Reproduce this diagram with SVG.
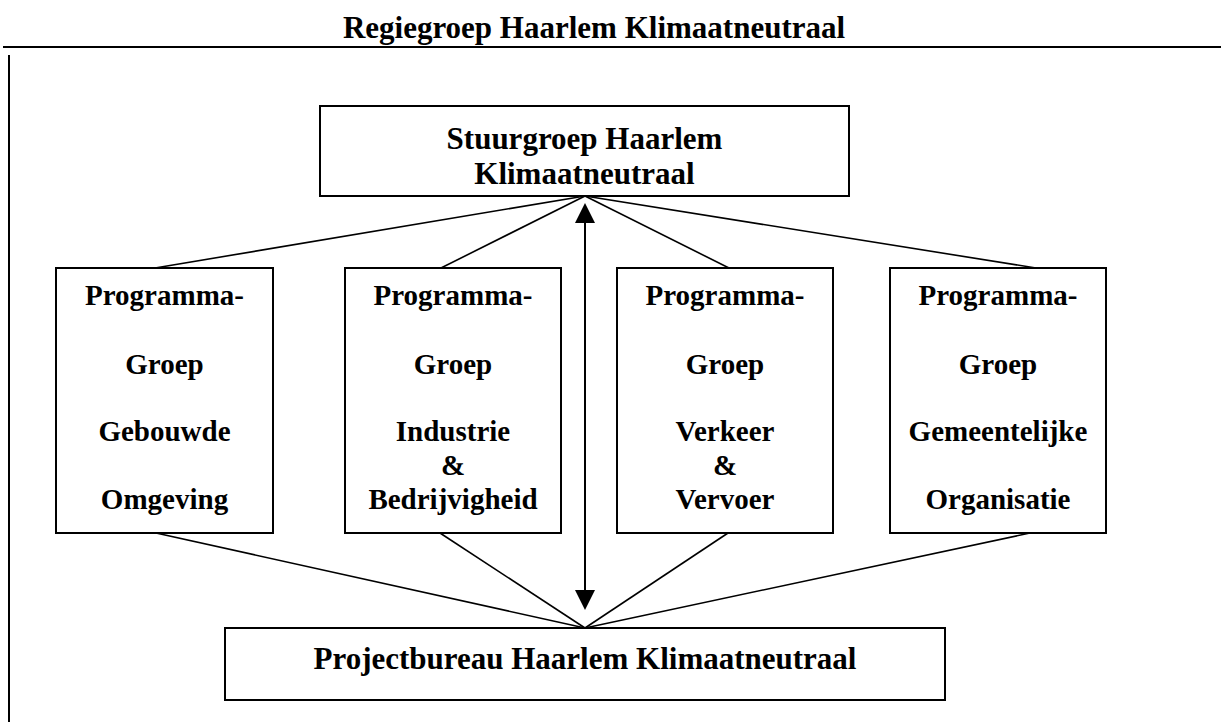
<svg xmlns="http://www.w3.org/2000/svg" width="1221" height="722" viewBox="0 0 1221 722">
<style>
.box{fill:#fff;stroke:#000;stroke-width:2}
.t{font-family:"Liberation Serif","Times New Roman",serif;font-weight:bold;fill:#000;text-anchor:middle}
.h{font-size:31px}
.p{font-size:29px}
.c{stroke:#000;stroke-width:1.6;fill:none}
</style>
<rect width="1221" height="722" fill="#fff"/>
<g id="frame">
<text class="t h" x="594" y="38">Regiegroep Haarlem Klimaatneutraal</text>
<line x1="3" y1="47" x2="1221" y2="47" stroke="#000" stroke-width="2"/>
<line x1="9" y1="55" x2="9" y2="722" stroke="#000" stroke-width="2"/>
</g>
<g id="connectors">
<line class="c" x1="585" y1="196" x2="155" y2="268"/>
<line class="c" x1="585" y1="196" x2="441" y2="268"/>
<line class="c" x1="585" y1="196" x2="729" y2="268"/>
<line class="c" x1="585" y1="196" x2="1036" y2="268"/>
<line class="c" x1="156" y1="533" x2="585" y2="628"/>
<line class="c" x1="440" y1="533" x2="585" y2="628"/>
<line class="c" x1="728" y1="533" x2="585" y2="628"/>
<line class="c" x1="1030" y1="533" x2="585" y2="628"/>
<line x1="585" y1="215" x2="585" y2="598" stroke="#000" stroke-width="2"/>
<polygon points="585,203 575,223 595,223" fill="#000"/>
<polygon points="585,610 575,590 595,590" fill="#000"/>
</g>
<g id="stuurgroep">
<rect class="box" x="320" y="106" width="529" height="90"/>
<text class="t h" x="584.5" y="149">Stuurgroep Haarlem</text>
<text class="t h" x="584.5" y="184">Klimaatneutraal</text>
</g>
<g id="pg1">
<rect class="box" x="56" y="268" width="217" height="265"/>
<text class="t p" x="164.5" y="305">Programma-</text>
<text class="t p" x="164.5" y="374">Groep</text>
<text class="t p" x="164.5" y="441">Gebouwde</text>
<text class="t p" x="164.5" y="509">Omgeving</text>
</g>
<g id="pg2">
<rect class="box" x="345" y="268" width="216" height="265"/>
<text class="t p" x="453" y="305">Programma-</text>
<text class="t p" x="453" y="374">Groep</text>
<text class="t p" x="453" y="441">Industrie</text>
<text class="t p" x="453" y="475">&amp;</text>
<text class="t p" x="453" y="509">Bedrijvigheid</text>
</g>
<g id="pg3">
<rect class="box" x="617" y="268" width="216" height="265"/>
<text class="t p" x="725" y="305">Programma-</text>
<text class="t p" x="725" y="374">Groep</text>
<text class="t p" x="725" y="441">Verkeer</text>
<text class="t p" x="725" y="475">&amp;</text>
<text class="t p" x="725" y="509">Vervoer</text>
</g>
<g id="pg4">
<rect class="box" x="890" y="268" width="216" height="265"/>
<text class="t p" x="998" y="305">Programma-</text>
<text class="t p" x="998" y="374">Groep</text>
<text class="t p" x="998" y="441">Gemeentelijke</text>
<text class="t p" x="998" y="509">Organisatie</text>
</g>
<g id="projectbureau">
<rect class="box" x="225" y="628" width="720" height="72"/>
<text class="t h" x="585" y="669">Projectbureau Haarlem Klimaatneutraal</text>
</g>
</svg>
